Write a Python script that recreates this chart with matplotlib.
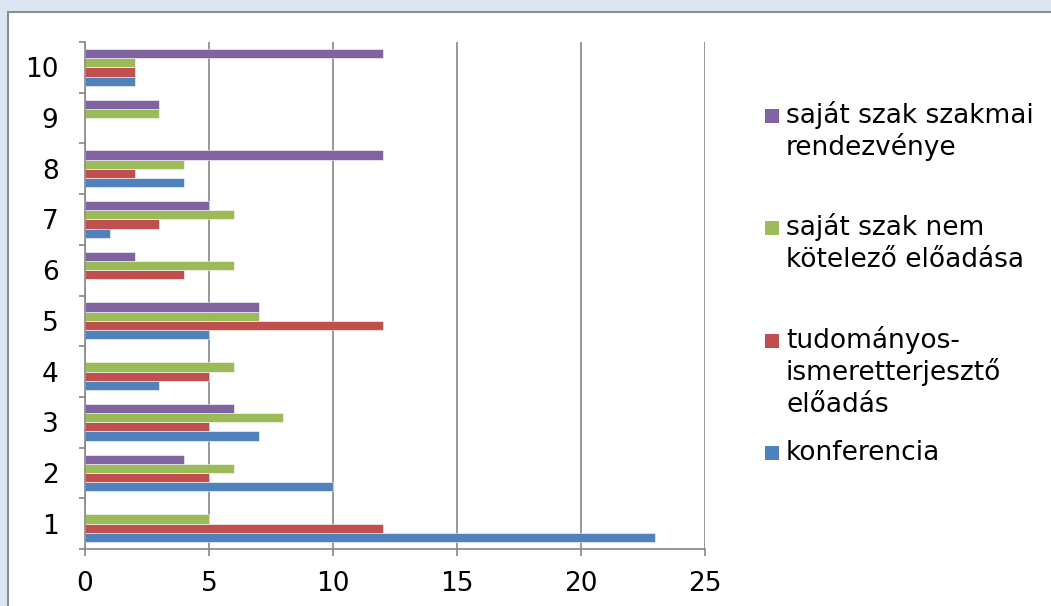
import numpy as np
import matplotlib.pyplot as plt
from matplotlib.patches import Rectangle

plt.rcParams['font.family'] = ['DejaVu Sans']

categories = ['1', '2', '3', '4', '5', '6', '7', '8', '9', '10']
konferencia = [23, 10, 7, 3, 5, 0, 1, 4, 0, 2]
tudomanyos = [12, 5, 5, 5, 12, 4, 3, 2, 0, 2]
nem_kotelezo = [5, 6, 8, 6, 7, 6, 6, 4, 3, 2]
szakmai = [0, 4, 6, 0, 7, 2, 5, 12, 3, 12]

series = [konferencia, tudomanyos, nem_kotelezo, szakmai]
names = ['konferencia', 'tudományos-\nismeretterjesztő\nelőadás',
         'saját szak nem\nkötelező előadása', 'saját szak szakmai\nrendezvénye']
colors = ['#4F81BD', '#C0504D', '#9BBB59', '#8064A2']

W, H = 1051, 606
fig = plt.figure(figsize=(W / 100, H / 100), dpi=100)
fig.patch.set_facecolor('#DCE6F2')

# white chart panel with grey frame (cut off at right/bottom)
panel = Rectangle((8 / W, -0.01), 1.0, 1 - 12 / H + 0.01, transform=fig.transFigure,
                  facecolor='white', edgecolor='#8C8C8C', linewidth=1.5, zorder=0)
fig.add_artist(panel)

ax = fig.add_axes([85 / W, 57 / H, 620 / W, 507 / H])
ax.set_facecolor('none')

y = np.arange(len(categories))
h = 1 / 5.5
for k, (vals, c) in enumerate(zip(series, colors)):
    ax.barh(y + (k - 1.5) * h, vals, height=h, color=c,
            edgecolor='white', linewidth=0.4, zorder=2)

ax.set_xlim(0, 25)
ax.set_ylim(-0.5, len(categories) - 0.5)
ax.set_xticks(range(0, 26, 5))
ax.grid(axis='x', color='#868686', linewidth=1.2)
ax.set_axisbelow(True)

ax.set_yticks(np.arange(-0.5, len(categories), 1.0))
ax.set_yticklabels([])
ax.set_yticks(y, minor=True)
ax.set_yticklabels(categories, minor=True)
ax.tick_params(axis='y', which='major', length=4, width=1.2, color='#868686')
ax.tick_params(axis='y', which='minor', length=0, pad=19, labelsize=19)
ax.tick_params(axis='x', length=5, width=1.2, color='#868686', pad=11, labelsize=19)

for s in ['top', 'right']:
    ax.spines[s].set_visible(False)
for s in ['left', 'bottom']:
    ax.spines[s].set_color('#868686')
    ax.spines[s].set_linewidth(1.2)

# legend, drawn by hand so entries are evenly spaced like the original
base0, step, line_step = 123, 112.3, 32
for k in range(len(series) - 1, -1, -1):
    i = len(series) - 1 - k
    base = base0 + i * step
    fig.add_artist(Rectangle((765 / W, 1 - base / H), 14 / W, 14 / H,
                             transform=fig.transFigure, facecolor=colors[k],
                             edgecolor='none'))
    for j, line in enumerate(names[k].split('\n')):
        fig.text(786 / W, 1 - (base + j * line_step) / H, line,
                 fontsize=19, va='baseline', ha='left', color='black')

fig.savefig('out.png', dpi=100, facecolor=fig.get_facecolor())
